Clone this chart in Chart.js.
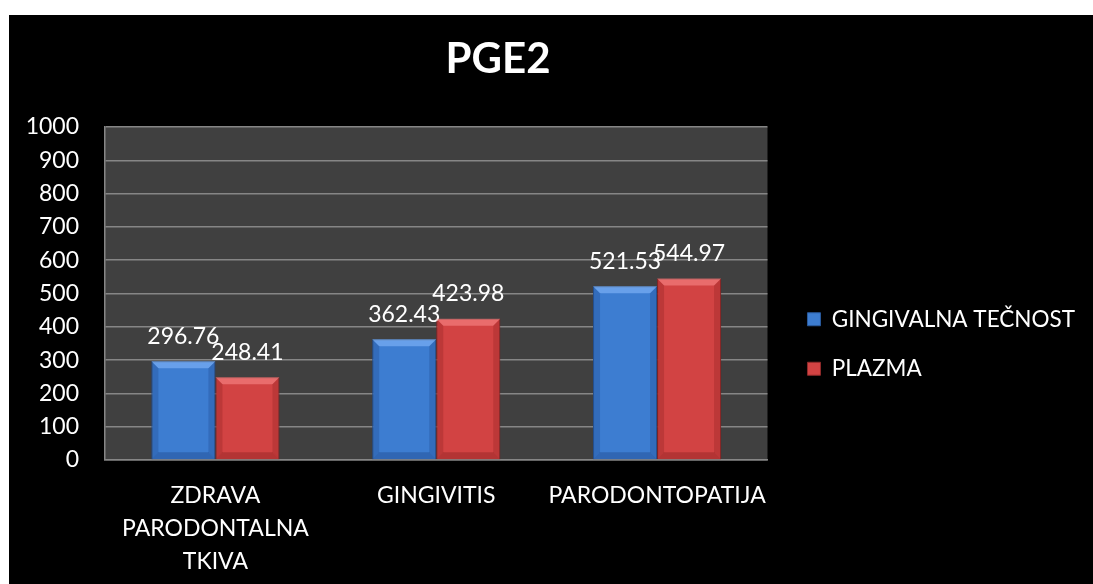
<!DOCTYPE html>
<html>
<head>
<meta charset="utf-8">
<script src="https://cdn.jsdelivr.net/npm/chart.js@4.4.1/dist/chart.umd.min.js"></script>
<style>
  html, body { margin: 0; padding: 0; background: #fff; }
  #wrap { position: absolute; left: 9px; top: 15px; width: 1084px; height: 569px; background: #000; }
</style>
</head>
<body>
<div id="wrap"><canvas id="pgeChart"></canvas></div>
<script>
let categories = [['ZDRAVA', 'PARODONTALNA', 'TKIVA'], 'GINGIVITIS', 'PARODONTOPATIJA'];
let gingivalnaData = [296.76, 362.43, 521.53]; // gingivalna tecnost
let plazmaData = [248.41, 423.98, 544.97]; // plazma
let yTicks = { min: 0, max: 1000, step: 100 };

const FONT = 'Lato, "Open Sans", sans-serif';

// gray plot area
const plotBg = {
  id: 'plotBg',
  beforeDraw(chart) {
    const { ctx, chartArea: a } = chart;
    ctx.save();
    ctx.fillStyle = '#404040';
    ctx.fillRect(a.left, a.top, a.right - a.left, a.bottom - a.top);
    ctx.restore();
  }
};

// excel-like bevel on bars + value labels
const barDeco = {
  id: 'barDeco',
  afterDatasetsDraw(chart) {
    const ctx = chart.ctx;
    chart.data.datasets.forEach((ds, i) => {
      chart.getDatasetMeta(i).data.forEach((bar, j) => {
        const l = bar.x - bar.width / 2, r = bar.x + bar.width / 2;
        const t = bar.y, b = bar.base, e = 7;
        ctx.save();
        ctx.fillStyle = ds.bevelTop;
        ctx.beginPath();
        ctx.moveTo(l, t); ctx.lineTo(r, t); ctx.lineTo(r - e, t + e); ctx.lineTo(l + e, t + e);
        ctx.closePath(); ctx.fill();
        ctx.fillStyle = ds.bevelSide;
        ctx.beginPath();
        ctx.moveTo(l, t); ctx.lineTo(l + e, t + e); ctx.lineTo(l + e, b - e); ctx.lineTo(l, b);
        ctx.closePath(); ctx.fill();
        ctx.beginPath();
        ctx.moveTo(r, t); ctx.lineTo(r - e, t + e); ctx.lineTo(r - e, b - e); ctx.lineTo(r, b);
        ctx.closePath(); ctx.fill();
        ctx.fillStyle = ds.bevelBottom;
        ctx.beginPath();
        ctx.moveTo(l, b); ctx.lineTo(l + e, b - e); ctx.lineTo(r - e, b - e); ctx.lineTo(r, b);
        ctx.closePath(); ctx.fill();

        ctx.fillStyle = '#fff';
        ctx.font = '23px ' + FONT;
        ctx.textAlign = 'center';
        ctx.textBaseline = 'middle';
        ctx.fillText(ds.data[j].toFixed(2), bar.x, t - 25);
        ctx.restore();
      });
    });
  }
};

// chart title
const titlePlug = {
  id: 'titlePlug',
  afterDraw(chart) {
    const ctx = chart.ctx;
    ctx.save();
    ctx.fillStyle = '#fff';
    ctx.font = 'bold 42px ' + FONT;
    ctx.textAlign = 'center';
    ctx.textBaseline = 'middle';
    ctx.fillText('PGE2', 489, 44);
    ctx.restore();
  }
};

let ctx = document.getElementById('pgeChart').getContext('2d');

let pgeChart = new Chart(ctx, {
  type: 'bar',
  data: {
    labels: categories,
    datasets: [
      {
        label: 'GINGIVALNA TEČNOST',
        data: gingivalnaData,
        backgroundColor: '#3d7dd1',
        borderColor: '#2a5a9c',
        borderWidth: 1,
        bevelTop: 'rgba(140,190,255,0.55)',
        bevelSide: 'rgba(20,50,110,0.22)',
        bevelBottom: 'rgba(20,50,110,0.3)',
        categoryPercentage: 0.58,
        barPercentage: 1
      },
      {
        label: 'PLAZMA',
        data: plazmaData,
        backgroundColor: '#d24343',
        borderColor: '#8e2a2a',
        borderWidth: 1,
        bevelTop: 'rgba(255,150,150,0.5)',
        bevelSide: 'rgba(110,20,20,0.22)',
        bevelBottom: 'rgba(110,20,20,0.3)',
        categoryPercentage: 0.58,
        barPercentage: 1
      }
    ]
  },
  options: {
    responsive: true,
    maintainAspectRatio: false,
    animation: false,
    layout: { padding: { top: 112, left: 0, right: 8, bottom: 0 } },
    plugins: {
      title: { display: false },
      tooltip: { enabled: false },
      legend: {
        position: 'right',
        align: 'start',
        maxWidth: 420,
        title: {
          display: true,
          text: ' ',
          font: { family: FONT, size: 10, lineHeight: 1 },
          padding: { top: 72, bottom: 72 }
        },
        labels: {
          color: '#fff',
          font: { family: FONT, size: 22.5 },
          boxWidth: 13,
          boxHeight: 13,
          padding: 27
        }
      }
    },
    scales: {
      x: {
        grid: { display: false },
        border: { color: '#868686', width: 1.5 },
        ticks: {
          color: '#fff',
          font: { family: FONT, size: 23, lineHeight: 1.435 },
          padding: 11,
          maxRotation: 0,
          autoSkip: false
        },
        afterFit(s) { s.height = 124; }
      },
      y: {
        min: yTicks.min,
        max: yTicks.max,
        grid: { color: '#868686', lineWidth: 1.5, drawTicks: false },
        border: { color: '#868686', width: 1.5 },
        ticks: {
          stepSize: yTicks.step,
          color: '#fff',
          font: { family: FONT, size: 23 },
          padding: 26,
          callback: v => String(v)
        },
        afterFit(s) { s.width = 96; }
      },
      y2: {
        position: 'right',
        grid: { display: false },
        border: { display: false },
        ticks: { display: false },
        afterFit(s) { s.width = 13; }
      }
    }
  },
  plugins: [plotBg, barDeco, titlePlug]
});
</script>
</body>
</html>
